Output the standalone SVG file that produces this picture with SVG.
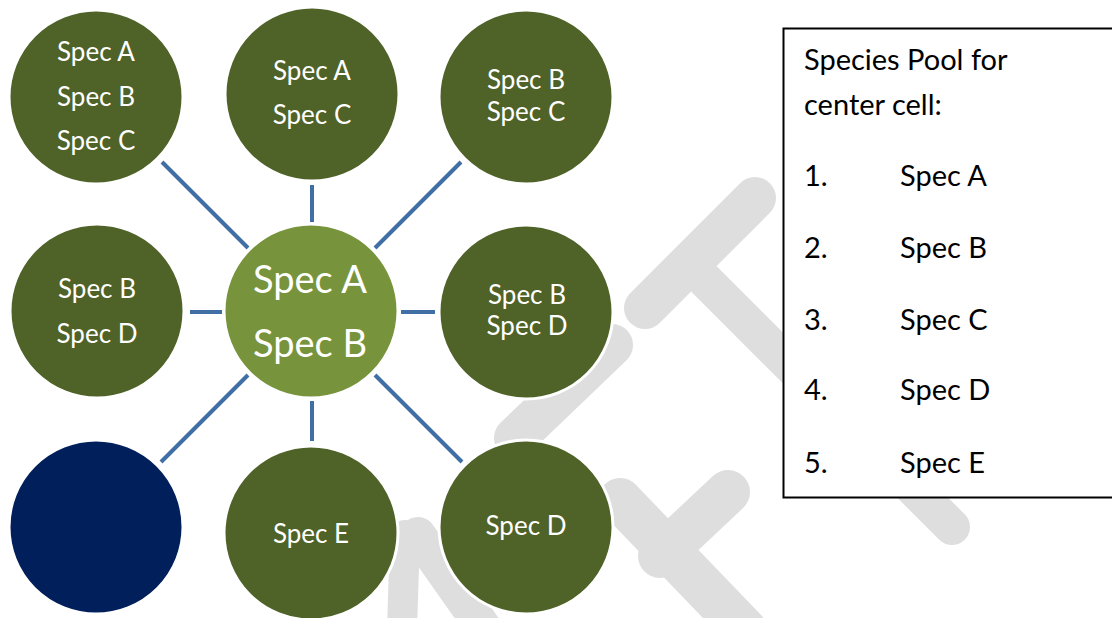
<svg xmlns="http://www.w3.org/2000/svg" width="1112" height="618" viewBox="0 0 1112 618">
<style>
.wm{stroke:#dedede;stroke-linecap:round;fill:none}
.dk{fill:#4f6228;stroke:#ffffff;stroke-width:3}
.lt{fill:#77933c;stroke:#ffffff;stroke-width:3}
.nv{fill:#001f5b;stroke:#ffffff;stroke-width:3}
.t{font-family:Lato,"Open Sans",sans-serif;font-size:26px;fill:#ffffff;text-anchor:middle}
.tb{font-family:Lato,"Open Sans",sans-serif;font-size:38px;fill:#ffffff;text-anchor:middle}
.bx{font-family:Lato,"Open Sans",sans-serif;font-size:29px;fill:#000000}
.cn line{stroke:#3f6fa5;stroke-width:4}
</style>
<rect width="1112" height="618" fill="#ffffff"/>
<g id="watermark">
<line class="wm" x1="755" y1="198" x2="645" y2="308" stroke-width="42"/>
<line class="wm" x1="705" y1="280" x2="952" y2="527" stroke-width="36"/>
<line class="wm" x1="612" y1="345" x2="515" y2="438" stroke-width="42"/>
<line class="wm" x1="418" y1="535" x2="485" y2="630" stroke-width="36"/>
<line class="wm" x1="405" y1="535" x2="402" y2="630" stroke-width="30"/>
<line class="wm" x1="620" y1="500" x2="745" y2="630" stroke-width="44"/>
<line class="wm" x1="728" y1="492" x2="660" y2="556" stroke-width="44"/>
</g>
<g id="pool">
<rect x="783.5" y="28.5" width="340" height="469" fill="#ffffff" stroke="#000000" stroke-width="2"/>
<text class="bx" x="804" y="70">Species Pool for</text>
<text class="bx" x="804" y="115">center cell:</text>
<text class="bx" x="804" y="186">1.</text><text class="bx" x="900" y="186">Spec A</text>
<text class="bx" x="804" y="258">2.</text><text class="bx" x="900" y="258">Spec B</text>
<text class="bx" x="804" y="330">3.</text><text class="bx" x="900" y="330">Spec C</text>
<text class="bx" x="804" y="400">4.</text><text class="bx" x="900" y="400">Spec D</text>
<text class="bx" x="804" y="473">5.</text><text class="bx" x="900" y="473">Spec E</text>
</g>
<g id="connectors" class="cn">
<line x1="162" y1="162" x2="248" y2="248"/>
<line x1="312" y1="185" x2="312" y2="222"/>
<line x1="461" y1="162" x2="375" y2="248"/>
<line x1="190" y1="312" x2="222" y2="312"/>
<line x1="401" y1="312" x2="435" y2="312"/>
<line x1="248" y1="375" x2="161" y2="462"/>
<line x1="312" y1="401" x2="312" y2="441"/>
<line x1="375" y1="375" x2="462" y2="462"/>
</g>
<g id="n-tl"><circle class="dk" cx="96" cy="97" r="87"/>
<text class="t" x="96" y="61">Spec A</text><text class="t" x="96" y="106">Spec B</text><text class="t" x="96" y="150">Spec C</text></g>
<g id="n-tm"><circle class="dk" cx="312" cy="94" r="87"/>
<text class="t" x="312" y="80">Spec A</text><text class="t" x="312" y="124">Spec C</text></g>
<g id="n-tr"><circle class="dk" cx="526" cy="97" r="87"/>
<text class="t" x="526" y="89">Spec B</text><text class="t" x="526" y="121">Spec C</text></g>
<g id="n-ml"><circle class="dk" cx="97" cy="311" r="87"/>
<text class="t" x="97" y="298">Spec B</text><text class="t" x="97" y="343">Spec D</text></g>
<g id="n-c"><circle class="lt" cx="311" cy="311" r="87"/>
<text class="tb" x="310" y="293">Spec A</text><text class="tb" x="310" y="357">Spec B</text></g>
<g id="n-mr"><circle class="dk" cx="526" cy="312" r="87"/>
<text class="t" x="527" y="304">Spec B</text><text class="t" x="527" y="335">Spec D</text></g>
<g id="n-bl"><circle class="nv" cx="96" cy="527" r="87"/></g>
<g id="n-bm"><circle class="dk" cx="311" cy="533" r="87"/>
<text class="t" x="311" y="543">Spec E</text></g>
<g id="n-br"><circle class="dk" cx="526" cy="527" r="87"/>
<text class="t" x="526" y="535">Spec D</text></g>
</svg>
